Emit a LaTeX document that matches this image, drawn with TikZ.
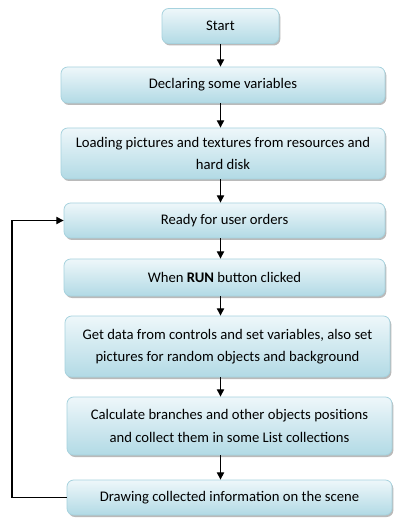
\documentclass[tikz,border=0pt]{standalone}
\usepackage{fontspec}
\setmainfont{Carlito}
\usetikzlibrary{arrows.meta,shadows}
\tikzset{
  stepbox/.style={draw=boxedge, line width=0.6pt, rounded corners=5pt,
    top color=boxtop, bottom color=boxbot, align=center,
    font=\fontsize{11}{16.8}\selectfont, inner sep=2pt,
    drop shadow={shadow xshift=1pt, shadow yshift=-1.5pt, fill=black!45, opacity=0.6}},
  arr/.style={-{Triangle[length=5.5pt,width=5.5pt]}, line width=0.8pt, black}
}
\definecolor{boxedge}{HTML}{A6D2DE}
\definecolor{boxtop}{HTML}{EEF7FA}
\definecolor{boxbot}{HTML}{B2DAE5}
\begin{document}
\begin{tikzpicture}[x=0.75pt,y=-0.75pt]
\useasboundingbox[fill=white] (0,0) rectangle (405,530);
\node[stepbox, minimum width=117*0.75pt, minimum height=35*0.75pt] (start) at (220.5,26) {Start};
\node[stepbox, minimum width=324*0.75pt, minimum height=36*0.75pt] (decl) at (223,85) {Declaring some variables};
\node[stepbox, minimum width=324*0.75pt, minimum height=51*0.75pt] (load) at (223,153.5) {Loading pictures and textures from resources and\\hard disk};
\node[stepbox, minimum width=321*0.75pt, minimum height=35*0.75pt] (ready) at (224.5,220.5) {Ready for user orders};
\node[stepbox, minimum width=321*0.75pt, minimum height=37*0.75pt] (run) at (224.5,277.5) {When \textbf{RUN} button clicked};
\node[stepbox, minimum width=325*0.75pt, minimum height=61*0.75pt] (get) at (227.5,346.5) {Get data from controls and set variables, also set\\pictures for random objects and background};
\node[stepbox, minimum width=325*0.75pt, minimum height=58*0.75pt] (calc) at (229.5,426) {Calculate branches and other objects positions\\and collect them in some List collections};
\node[stepbox, minimum width=325*0.75pt, minimum height=35*0.75pt] (drawn) at (229.5,497.5) {Drawing collected information on the scene};
\coordinate (loop) at (12,497.5);
\draw[arr] (start.south) -- (start.south |- decl.north);
\draw[arr] (start.south |- decl.south) -- (start.south |- load.north);
\draw[arr] (start.south |- load.south) -- (start.south |- ready.north);
\draw[arr] (start.south |- ready.south) -- (start.south |- run.north);
\draw[arr] (start.south |- run.south) -- (start.south |- get.north);
\draw[arr] (start.south |- get.south) -- (start.south |- calc.north);
\draw[arr] (start.south |- calc.south) -- (start.south |- drawn.north);
\draw[arr] (drawn.west) -- (loop) |- (ready.west);
\end{tikzpicture}
\end{document}
